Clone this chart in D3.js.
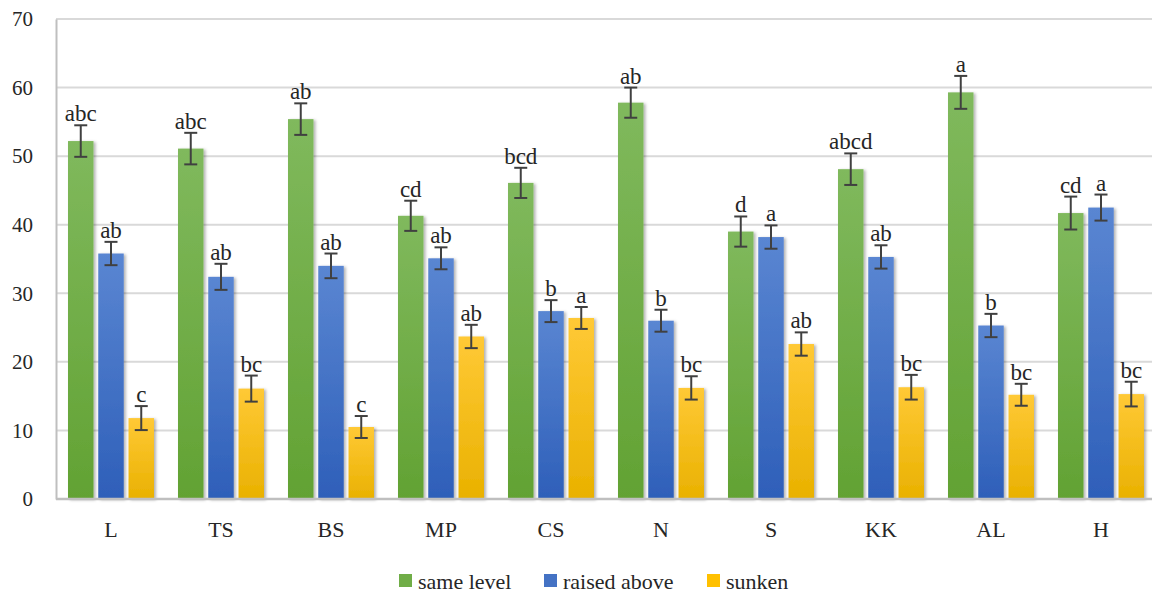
<!DOCTYPE html>
<html>
<head>
<meta charset="utf-8">
<script src="https://cdn.jsdelivr.net/npm/d3@7"></script>
<style>
  body { margin: 0; background: #fff; }
</style>
</head>
<body>
<div id="chart"></div>
<script>
// data
const categories = ["L", "TS", "BS", "MP", "CS", "N", "S", "KK", "AL", "H"];
const seriesNames = ["same level", "raised above", "sunken"];
const sameLevel = [52.2, 51.1, 55.4, 41.3, 46.1, 57.8, 39.0, 48.1, 59.3, 41.7];
const raisedAbove = [35.8, 32.4, 34.0, 35.1, 27.4, 26.0, 38.2, 35.3, 25.3, 42.5];
const sunken = [11.8, 16.1, 10.5, 23.7, 26.4, 16.2, 22.6, 16.3, 15.2, 15.3];
const errSame = [2.3, 2.3, 2.3, 2.2, 2.2, 2.2, 2.2, 2.3, 2.4, 2.4];
const errRaised = [1.7, 1.9, 1.8, 1.6, 1.6, 1.6, 1.7, 1.7, 1.7, 1.9];
const errSunken = [1.75, 1.9, 1.6, 1.7, 1.6, 1.7, 1.7, 1.8, 1.6, 1.8];
const lettersSame = ["abc", "abc", "ab", "cd", "bcd", "ab", "d", "abcd", "a", "cd"];
const lettersRaised = ["ab", "ab", "ab", "ab", "b", "b", "a", "ab", "b", "a"];
const lettersSunken = ["c", "bc", "c", "ab", "a", "bc", "ab", "bc", "bc", "bc"];
const yTicks = [0, 10, 20, 30, 40, 50, 60, 70];

const W = 1152, H = 595;
const plot = { left: 56, right: 1156, top: 19, bottom: 499 };
const FONT = "'Times New Roman', 'Liberation Serif', serif";

const svg = d3.select("#chart").append("svg")
  .attr("width", W).attr("height", H)
  .style("font-family", FONT);

const defs = svg.append("defs");
// gradients for the three series (light top, darker bottom)
const grads = [
  { id: "gGreen", top: "#80b95d", bot: "#62a233" },
  { id: "gBlue", top: "#5a86d2", bot: "#2e5fb9" },
  { id: "gYellow", top: "#ffc936", bot: "#e9b100" }
];
grads.forEach(g => {
  const lg = defs.append("linearGradient").attr("id", g.id)
    .attr("x1", 0).attr("y1", 0).attr("x2", 0).attr("y2", 1);
  lg.append("stop").attr("offset", "0%").attr("stop-color", g.top);
  lg.append("stop").attr("offset", "100%").attr("stop-color", g.bot);
});
const shadow = defs.append("filter").attr("id", "shadow")
  .attr("x", "-20%").attr("y", "-5%").attr("width", "150%").attr("height", "115%");
shadow.append("feDropShadow").attr("dx", 2).attr("dy", 1).attr("stdDeviation", 1.5)
  .attr("flood-color", "#000").attr("flood-opacity", 0.3);

const x = d3.scaleBand().domain(categories).range([plot.left, plot.right]);
const xInner = d3.scaleBand().domain(seriesNames).range([12, 98]).paddingInner(0.157);
const y = d3.scaleLinear().domain([0, 70]).range([plot.bottom, plot.top]);

// gridlines
svg.append("g")
  .selectAll("line")
  .data(yTicks.filter(d => d > 0))
  .join("line")
  .attr("x1", plot.left).attr("x2", plot.right)
  .attr("y1", d => y(d)).attr("y2", d => y(d))
  .attr("stroke", "#d9d9d9").attr("stroke-width", 2);

// y axis labels
const yAxis = svg.append("g")
  .attr("transform", `translate(${plot.left},0)`)
  .call(d3.axisLeft(y).tickValues(yTicks).tickSize(0).tickPadding(23));
yAxis.attr("font-family", null).attr("font-size", null);
yAxis.select(".domain").attr("stroke", "#bfbfbf").attr("stroke-width", 2);
yAxis.selectAll("text")
  .style("font-size", "21px")
  .style("font-family", FONT)
  .attr("fill", "#262626");

const series = [
  { name: "same level", vals: sameLevel, err: errSame, letters: lettersSame, fill: "url(#gGreen)", key: "#70ad47" },
  { name: "raised above", vals: raisedAbove, err: errRaised, letters: lettersRaised, fill: "url(#gBlue)", key: "#4472c4" },
  { name: "sunken", vals: sunken, err: errSunken, letters: lettersSunken, fill: "url(#gYellow)", key: "#ffc000" }
];

const rows = [];
categories.forEach((c, i) => {
  series.forEach(s => {
    rows.push({ cat: c, name: s.name, v: s.vals[i], e: s.err[i], letter: s.letters[i], fill: s.fill });
  });
});

const bx = d => x(d.cat) + xInner(d.name);
const bw = xInner.bandwidth();

// bars
svg.append("g")
  .selectAll("rect")
  .data(rows)
  .join("rect")
  .attr("x", bx)
  .attr("y", d => y(d.v))
  .attr("width", bw)
  .attr("height", d => y(0) - y(d.v))
  .attr("fill", d => d.fill)
  .attr("filter", "url(#shadow)");

// x axis line
svg.append("line")
  .attr("x1", plot.left).attr("x2", plot.right)
  .attr("y1", plot.bottom).attr("y2", plot.bottom)
  .attr("stroke", "#bfbfbf").attr("stroke-width", 2.5);

// error bars
const eb = svg.append("g").attr("stroke", "#404040").attr("stroke-width", 2);
rows.forEach(d => {
  const cx = bx(d) + bw / 2;
  eb.append("line").attr("x1", cx).attr("x2", cx).attr("y1", y(d.v + d.e)).attr("y2", y(d.v - d.e));
  eb.append("line").attr("x1", cx - 6.5).attr("x2", cx + 6.5).attr("y1", y(d.v + d.e)).attr("y2", y(d.v + d.e));
  eb.append("line").attr("x1", cx - 6.5).attr("x2", cx + 6.5).attr("y1", y(d.v - d.e)).attr("y2", y(d.v - d.e));
});

// significance letters
svg.append("g")
  .selectAll("text")
  .data(rows)
  .join("text")
  .attr("x", d => bx(d) + bw / 2)
  .attr("y", d => y(d.v + d.e) - 4)
  .attr("text-anchor", "middle")
  .attr("fill", "#262626")
  .style("font-family", FONT)
  .style("font-size", "23px")
  .text(d => d.letter);

// category labels
svg.append("g")
  .selectAll("text")
  .data(categories)
  .join("text")
  .attr("x", d => x(d) + x.bandwidth() / 2)
  .attr("y", 537)
  .attr("text-anchor", "middle")
  .attr("fill", "#262626")
  .style("font-family", FONT)
  .style("font-size", "22px")
  .text(d => d);

// legend
const legendX = [399, 544, 707];
const legend = svg.append("g");
series.forEach((s, i) => {
  legend.append("rect")
    .attr("x", legendX[i]).attr("y", 574)
    .attr("width", 13).attr("height", 13)
    .attr("fill", s.key);
  legend.append("text")
    .attr("x", legendX[i] + 19).attr("y", 589)
    .attr("fill", "#262626")
    .style("font-family", FONT)
    .style("font-size", "22px")
    .text(s.name);
});
</script>
</body>
</html>
